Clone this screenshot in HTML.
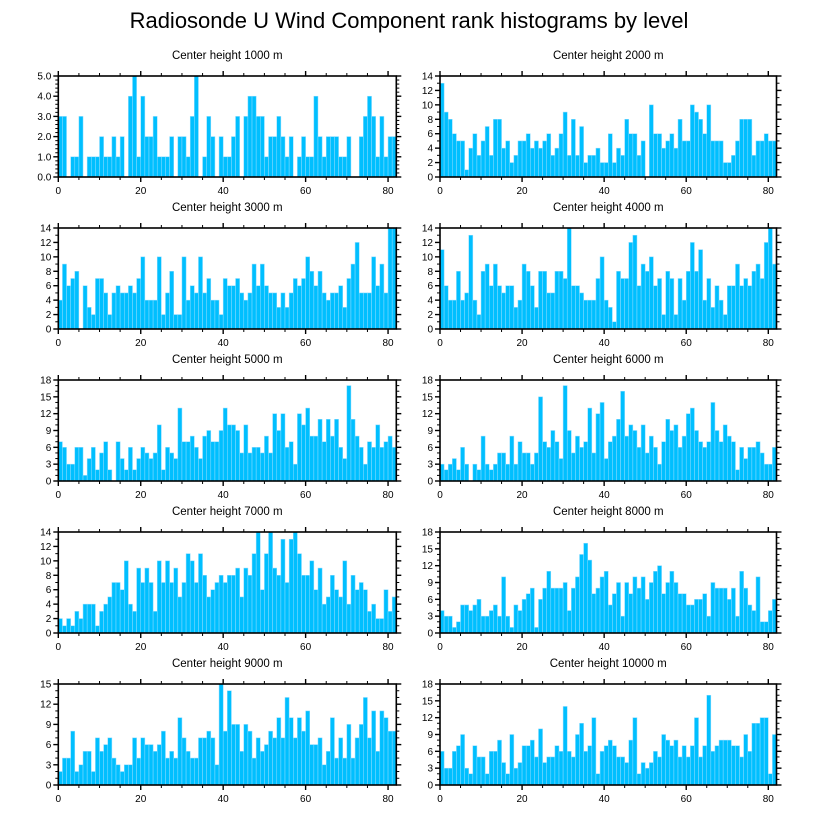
<!DOCTYPE html>
<html><head><meta charset="utf-8">
<style>
html,body{margin:0;padding:0;background:#fff;}
svg text{font-family:"Liberation Sans",sans-serif;fill:#000;}
</style></head>
<body>
<svg id="chart" width="818" height="824" viewBox="0 0 818 824" xmlns="http://www.w3.org/2000/svg">
<text x="409" y="28" font-size="22" text-anchor="middle">Radiosonde U Wind Component rank histograms by level</text>
</svg>
<script>
const h1000 = [3,3,0,1,1,3,0,1,1,1,2,1,1,2,1,2,0,4,5,1,4,2,2,3,1,1,1,2,0,2,2,1,3,5,0,1,3,2,0,2,1,1,2,3,0,3,4,4,3,3,1,2,2,3,2,1,2,0,1,2,1,1,4,2,1,2,2,2,1,1,2,0,0,2,3,4,3,1,3,1,2,2];
const h2000 = [13,9,8,6,5,5,1,4,6,3,5,7,3,8,8,4,5,2,3,5,5,6,4,5,4,5,6,3,4,6,9,3,8,3,7,2,3,3,4,2,2,6,2,4,3,8,6,6,3,5,0,10,6,6,4,5,6,4,8,5,5,10,9,8,6,10,5,5,5,2,2,3,5,8,8,8,3,5,5,6,5,5];
const h3000 = [4,9,6,7,8,0,6,3,2,7,7,5,2,5,6,5,5,6,5,7,10,4,4,4,10,2,5,8,2,2,10,4,6,5,10,5,7,4,4,2,7,6,6,7,5,4,5,9,6,9,6,5,5,3,5,3,5,7,6,7,10,8,6,8,5,4,5,5,6,3,7,9,12,5,5,5,10,6,9,5,14,14];
const h4000 = [11,6,4,4,8,4,5,13,4,2,8,9,6,9,6,5,6,6,3,4,9,8,6,3,8,8,5,5,8,8,7,14,6,6,5,4,4,4,7,10,4,3,1,8,7,7,12,13,6,9,8,10,6,7,2,8,7,2,7,4,8,12,8,11,4,7,3,6,4,2,6,6,9,6,7,6,8,9,7,12,14,9];
const h5000 = [7,6,3,3,6,6,1,4,6,2,5,7,2,0,7,4,2,6,2,4,6,5,4,5,10,2,6,5,4,13,7,7,8,6,4,8,9,7,7,9,13,10,10,9,5,10,5,6,6,5,8,5,12,9,12,6,7,3,12,10,13,8,8,11,7,11,8,11,6,4,17,11,8,6,3,7,6,10,6,7,8,6];
const h6000 = [3,2,3,4,2,6,3,0,3,2,8,3,2,3,5,5,3,8,3,7,5,5,3,5,15,7,6,9,7,4,17,9,5,8,6,7,13,5,12,14,4,7,8,11,16,8,10,9,6,10,5,8,6,3,7,11,9,10,6,8,12,13,9,7,6,7,14,9,7,10,8,7,2,6,4,6,6,7,5,3,3,6];
const h7000 = [2,1,2,1,3,2,4,4,4,1,3,4,5,7,7,6,10,4,3,9,7,9,7,3,10,7,10,7,9,5,7,11,10,7,11,8,5,6,7,8,7,8,8,9,5,9,8,11,14,6,11,14,9,8,13,7,13,14,11,8,8,10,6,9,4,5,8,6,5,10,4,8,6,7,6,3,4,2,2,6,3,5];
const h8000 = [4,3,3,1,2,5,5,4,5,6,3,3,4,5,3,10,3,1,5,4,6,7,8,1,6,8,11,8,8,8,9,4,8,10,14,16,13,7,8,10,11,5,7,9,3,9,7,10,8,10,6,9,11,12,7,9,11,9,7,7,5,5,6,6,7,3,9,8,8,8,6,8,3,11,8,5,4,10,2,2,4,6];
const h9000 = [2,4,4,8,2,3,5,5,2,7,5,6,7,4,3,2,3,3,7,4,7,6,6,5,6,8,4,5,4,10,7,5,4,4,7,7,8,7,3,15,8,14,9,9,5,9,8,4,7,5,6,8,7,10,7,13,10,7,10,8,11,6,6,7,3,5,10,4,7,4,9,4,7,9,13,7,11,5,11,10,8,8];
const h10000 = [6,3,3,6,7,9,3,2,7,5,5,2,6,6,8,4,2,9,3,4,7,7,8,5,10,4,5,5,7,6,14,6,5,9,11,6,7,12,2,6,7,8,7,5,5,4,8,12,2,4,3,4,6,5,9,8,7,8,5,7,5,7,12,5,7,16,6,7,8,8,8,7,7,5,9,6,11,11,12,12,2,9];
const panelTitles = ["Center height 1000 m","Center height 2000 m","Center height 3000 m","Center height 4000 m","Center height 5000 m","Center height 6000 m","Center height 7000 m","Center height 8000 m","Center height 9000 m","Center height 10000 m"];
const yMaxes = [5,14,14,14,18,18,14,18,15,18];
const yMajorSteps = [1,2,2,2,3,3,2,3,3,3];
const xTicks = [0,20,40,60,80];
const seriesList = [h1000,h2000,h3000,h4000,h5000,h6000,h7000,h8000,h9000,h10000];

const svg = document.getElementById('chart');
const NS = 'http://www.w3.org/2000/svg';
function mk(tag, attrs, parent){
  const e = document.createElementNS(NS, tag);
  for (const k in attrs) e.setAttribute(k, attrs[k]);
  (parent||svg).appendChild(e);
  return e;
}
const XMAX = 82;
seriesList.forEach((vals, p) => {
  const col = p % 2, row = Math.floor(p / 2);
  const L = col === 0 ? 58.3 : 440;
  const W = col === 0 ? 338 : 336.5;
  const T = 76 + row * 152, H = 101;
  const ymax = yMaxes[p], step = yMajorSteps[p];
  const xs = v => L + v / XMAX * W;
  const ys = v => T + H - v / ymax * H;
  const g = mk('g', {});
  
  
  const t = mk('text', {x: L + W/2, y: T - 17, 'font-size': 11.5, 'text-anchor': 'middle'}, g);
  t.textContent = panelTitles[p];
  
  
  vals.forEach((v, i) => {
    if (v <= 0) return;
    const r = mk('rect', {x: xs(i), y: ys(v), width: xs(i+1) - xs(i), height: ys(0) - ys(v), fill: '#00bfff', stroke: '#8fdcff', 'stroke-width': 0.5}, g);
    
    
  });
  const fr = mk('rect', {x: L, y: T, width: W, height: H, fill: 'none', stroke: '#000', 'stroke-width': 1.6}, g);
  
  
  for (let v = 0; v <= XMAX; v += 5) {
    const major = v % 20 === 0;
    const len = major ? 5 : 3;
    mk('line', {x1: xs(v), x2: xs(v), y1: T+H, y2: T+H+len, stroke: '#000', 'stroke-width': major?1.4:1}, g);
    mk('line', {x1: xs(v), x2: xs(v), y1: T, y2: T-len, stroke: '#000', 'stroke-width': major?1.4:1}, g);
  }
  xTicks.forEach(v => {
    const tl = mk('text', {x: xs(v), y: T+H+17, 'font-size': 10, 'text-anchor': 'middle'}, g);
    tl.textContent = v;
    
    
  });
  const minor = step / (step === 1 ? 5 : step);
  for (let k = 0; k <= Math.round(ymax / minor); k++) {
    const v = k * minor;
    const major = Math.abs(v / step - Math.round(v / step)) < 1e-6;
    const len = major ? 5 : 3;
    mk('line', {x1: L, x2: L-len, y1: ys(v), y2: ys(v), stroke: '#000', 'stroke-width': major?1.4:1}, g);
    mk('line', {x1: L+W, x2: L+W+len, y1: ys(v), y2: ys(v), stroke: '#000', 'stroke-width': major?1.4:1}, g);
  }
  for (let v = 0; v <= ymax + 1e-6; v += step) {
    const tl = mk('text', {x: L - 7, y: ys(v) + 3.5, 'font-size': 10, 'text-anchor': 'end'}, g);
    tl.textContent = step === 1 ? v.toFixed(1) : v;
    
    
  }
});
</script>
</body></html>
